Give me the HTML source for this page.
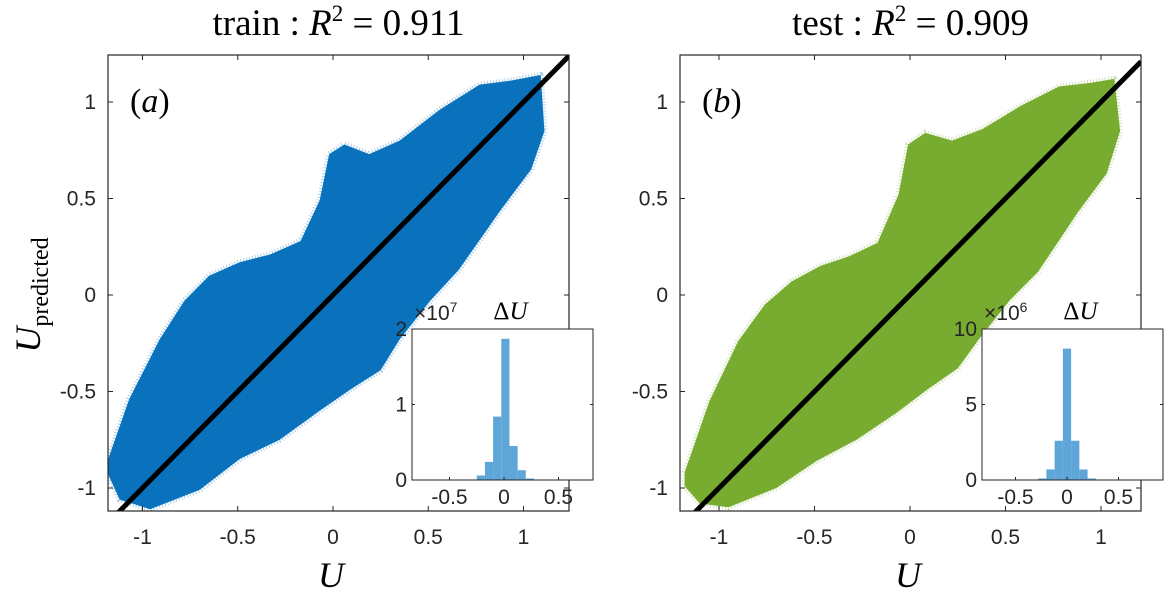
<!DOCTYPE html>
<html><head><meta charset="utf-8"><style>
html,body{margin:0;padding:0;background:#fff;}
svg{display:block;font-family:"Liberation Sans",sans-serif;}
.tk{font-size:21px;fill:#262626;}
.ser{font-family:"Liberation Serif",serif;}
</style></head><body>
<svg id="fig" width="1171" height="595" viewBox="0 0 1171 595"></svg>
<script>
// ---- data ----
const mainTicks=[-1,-0.5,0,0.5,1];
const mainTickLabels=["-1","-0.5","0","0.5","1"];
const trainUpperX=[-1.18,-1.07,-0.91,-0.78,-0.65,-0.49,-0.33,-0.17,-0.07,-0.02,0.06,0.19,0.35,0.56,0.77,0.93,1.09,1.11];
const trainUpperY=[-0.85,-0.54,-0.23,-0.03,0.10,0.17,0.21,0.28,0.49,0.73,0.78,0.73,0.80,0.96,1.09,1.11,1.14,0.85];
const trainLowerX=[-1.18,-1.12,-0.96,-0.70,-0.49,-0.28,-0.07,0.09,0.25,0.35,0.51,0.66,0.88,1.04,1.11];
const trainLowerY=[-0.93,-1.06,-1.11,-1.01,-0.85,-0.75,-0.60,-0.49,-0.39,-0.23,-0.03,0.13,0.44,0.65,0.85];
const testUpperX=[-1.18,-1.05,-0.90,-0.76,-0.62,-0.47,-0.32,-0.17,-0.06,-0.01,0.08,0.22,0.38,0.58,0.78,0.95,1.07,1.10];
const testUpperY=[-0.92,-0.55,-0.24,-0.05,0.07,0.15,0.20,0.27,0.52,0.78,0.84,0.80,0.86,0.98,1.08,1.10,1.12,0.85];
const testLowerX=[-1.18,-1.10,-0.95,-0.70,-0.49,-0.28,-0.07,0.09,0.25,0.36,0.52,0.67,0.88,1.03,1.10];
const testLowerY=[-0.99,-1.08,-1.10,-1.00,-0.86,-0.75,-0.61,-0.49,-0.38,-0.23,-0.03,0.12,0.43,0.63,0.85];
const histTrainEdges=[-0.25,-0.175,-0.10,-0.025,0.05,0.125,0.20,0.275];
const histTrainCounts=[0.06,0.24,0.84,1.87,0.45,0.13,0.02];
const histTestEdges=[-0.28,-0.20,-0.12,-0.04,0.04,0.12,0.20,0.28];
const histTestCounts=[0.1,0.7,2.6,8.7,2.6,0.7,0.1];
const insetXTicks=[-0.5,0,0.5];
const insetXTickLabels=["-0.5","0","0.5"];
const insetTrainYTicks=[0,1,2];
const insetTrainYTickLabels=["0","1","2"];
const insetTestYTicks=[0,5,10];
const insetTestYTickLabels=["0","5","10"];

const NS="http://www.w3.org/2000/svg";
const svg=document.getElementById('fig');
function mk(tag,attrs,parent,text){const e=document.createElementNS(NS,tag);for(const k in attrs)e.setAttribute(k,attrs[k]);if(text!==undefined)e.textContent=text;(parent||svg).appendChild(e);return e;}

function panel(o){
  const g=mk('g',{});
  
  
  const sx=v=>o.x0px+(v-0)*o.xu, sy=v=>o.y0px-v*o.yu;
  let pts=[];
  for(let i=0;i<o.ux.length;i++)pts.push(sx(o.ux[i])+','+sy(o.uy[i]));
  for(let i=o.lx.length-1;i>=0;i--)pts.push(sx(o.lx[i])+','+sy(o.ly[i]));
  const halo=mk('polygon',{points:pts.join(' '),fill:o.color,stroke:o.color,'stroke-width':6,'stroke-opacity':0.35,'stroke-dasharray':'1 2','stroke-linejoin':'round'},g);
  
  
  const ln=mk('line',{x1:o.L,y1:sy((o.L-o.x0px)/o.xu),x2:o.R,y2:sy((o.R-o.x0px)/o.xu),stroke:'#000','stroke-width':5},g);
  
  
  const cid='clip'+o.name;
  const cp=mk('clipPath',{id:cid},g);mk('rect',{x:o.L,y:o.T,width:o.R-o.L,height:o.B-o.T},cp);
  ln.setAttribute('clip-path','url(#'+cid+')');halo.setAttribute('clip-path','url(#'+cid+')');
  const box=mk('rect',{x:o.L,y:o.T,width:o.R-o.L,height:o.B-o.T,fill:'none',stroke:'#262626','stroke-width':1.2},g);
  
  
  mainTicks.forEach((t,i)=>{
    const X=sx(t),Y=sy(t);
    mk('line',{x1:X,y1:o.B,x2:X,y2:o.B-5,stroke:'#262626'},g);
    mk('line',{x1:X,y1:o.T,x2:X,y2:o.T+5,stroke:'#262626'},g);
    mk('line',{x1:o.L,y1:Y,x2:o.L+5,y2:Y,stroke:'#262626'},g);
    mk('line',{x1:o.R,y1:Y,x2:o.R-5,y2:Y,stroke:'#262626'},g);
    const xl=mk('text',{x:X,y:o.B+33,'text-anchor':'middle',class:'tk'},g,mainTickLabels[i]);
    
    
    const yl=mk('text',{x:o.L-12,y:Y+7,'text-anchor':'end',class:'tk'},g,mainTickLabels[i]);
    
    
  });
  const tt=mk('text',{x:(o.L+o.R)/2,y:35,'text-anchor':'middle',class:'ser','font-size':37,fill:'#000'},g);
  tt.innerHTML=o.title+' : <tspan font-style="italic">R</tspan><tspan font-size="23" dy="-14">2</tspan><tspan dy="14"> = '+o.r2+'</tspan>';
  
  
  const pl=mk('text',{x:o.L+22,y:112,class:'ser','font-size':34,fill:'#000'},g);
  pl.innerHTML='(<tspan font-style="italic">'+o.letter+'</tspan>)';
  
  
  const xa=mk('text',{x:sx(0)-2,y:587,'text-anchor':'middle',class:'ser','font-size':36,'font-style':'italic',fill:'#000'},g,'U');
  
  
  const h=o.inset;
  const ig=mk('g',{},g);
  
  
  mk('rect',{x:h.L,y:h.T,width:h.R-h.L,height:h.B-h.T,fill:'#fff'},ig);
  const hx=v=>h.x0+v*h.xu, hy=v=>h.B-v*(h.B-h.T)/h.ymax;
  for(let i=0;i<h.counts.length;i++){
    const r=mk('rect',{x:hx(h.edges[i]),y:hy(h.counts[i]),width:hx(h.edges[i+1])-hx(h.edges[i]),height:h.B-hy(h.counts[i]),fill:'#5ea6d8'},ig);
    
    
  }
  mk('rect',{x:h.L,y:h.T,width:h.R-h.L,height:h.B-h.T,fill:'none',stroke:'#262626','stroke-width':1},ig);
  insetXTicks.forEach((t,i)=>{
    const X=hx(t);
    mk('line',{x1:X,y1:h.B,x2:X,y2:h.B-3,stroke:'#262626'},ig);
    const l=mk('text',{x:X,y:h.B+24,'text-anchor':'middle',class:'tk','font-size':19},ig,insetXTickLabels[i]);
    
    
  });
  h.yt.forEach((t,i)=>{
    const Y=hy(t);
    mk('line',{x1:h.L,y1:Y,x2:h.L+3,y2:Y,stroke:'#262626'},ig);
    mk('line',{x1:h.R,y1:Y,x2:h.R-3,y2:Y,stroke:'#262626'},ig);
    const l=mk('text',{x:h.L-5,y:Y+7,'text-anchor':'end',class:'tk','font-size':19},ig,h.ytl[i]);
    
    
  });
  const ex=mk('text',{x:h.L+2,y:h.T-9,class:'tk','font-size':19},ig);
  ex.innerHTML='×10<tspan font-size="14" dy="-8">'+h.exp+'</tspan>';
  
  
  const it=mk('text',{x:(h.L+h.R)/2+8,y:h.T-10,'text-anchor':'middle',class:'ser','font-size':25,fill:'#000'},ig);
  it.innerHTML='Δ<tspan font-style="italic">U</tspan>';
  
  
}
panel({name:'train-panel',L:108,R:569,T:55,B:511,x0px:333,xu:190.5,y0px:295,yu:193,color:'#0a72bd',
  ux:trainUpperX,uy:trainUpperY,lx:trainLowerX,ly:trainLowerY,title:'train',r2:'0.911',letter:'a',
  inset:{L:412,R:593,T:329,B:480,x0:504,xu:109,ymax:2,edges:histTrainEdges,counts:histTrainCounts,yt:insetTrainYTicks,ytl:insetTrainYTickLabels,exp:'7'}});
panel({name:'test-panel',L:680,R:1141,T:55,B:511,x0px:910,xu:191,y0px:295,yu:193,color:'#77ac30',
  ux:testUpperX,uy:testUpperY,lx:testLowerX,ly:testLowerY,title:'test',r2:'0.909',letter:'b',
  inset:{L:982,R:1163,T:329,B:480,x0:1067,xu:103,ymax:10,edges:histTestEdges,counts:histTestCounts,yt:insetTestYTicks,ytl:insetTestYTickLabels,exp:'6'}});
const yt=mk('text',{transform:'translate(40,295) rotate(-90)','text-anchor':'middle',class:'ser','font-size':36,fill:'#000'});
yt.innerHTML='<tspan font-style="italic">U</tspan><tspan font-size="24" dy="8">predicted</tspan>';


</script>
</body></html>
